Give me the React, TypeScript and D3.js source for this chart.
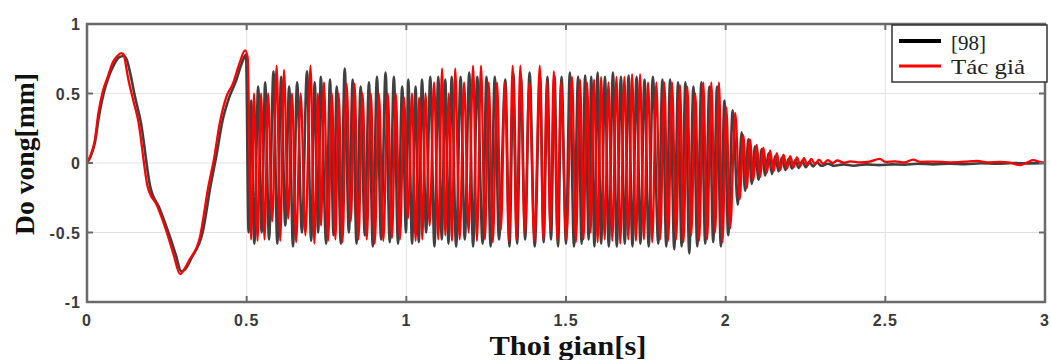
import React from "react";
import * as d3 from "d3";

// ---------- data ----------
const xTicks = [0, 0.5, 1, 1.5, 2, 2.5, 3];
const xTickLabels = ["0", "0.5", "1", "1.5", "2", "2.5", "3"];
const yTicks = [-1, -0.5, 0, 0.5, 1];
const yTickLabels = ["-1", "-0.5", "0", "0.5", "1"];
const seriesNames = ["[98]", "Tác giả"];

// Series "Tác giả" (red): [time s, deflection mm]
const redPoints: [number, number][] = [
  [0, 0], [0.012, 0.06], [0.025, 0.17], [0.035, 0.35], [0.05, 0.52], [0.065, 0.62], [0.08, 0.72], [0.095, 0.77], [0.108, 0.79], [0.115, 0.78],
  [0.122, 0.7], [0.128, 0.62], [0.145, 0.45], [0.16, 0.31], [0.19, -0.17], [0.22, -0.31], [0.25, -0.5], [0.27, -0.65], [0.292, -0.8], [0.3, -0.78],
  [0.32, -0.7], [0.354, -0.53], [0.38, -0.17], [0.397, 0.02], [0.416, 0.29], [0.437, 0.48], [0.457, 0.57], [0.478, 0.72], [0.495, 0.81], [0.503, 0.76],
  [0.514, -0.55], [0.523, 0.5], [0.534, -0.56], [0.545, 0.5], [0.556, -0.55], [0.567, 0.5], [0.58, -0.42], [0.594, 0.7], [0.605, -0.56], [0.617, 0.67],
  [0.63, -0.4], [0.642, 0.5], [0.655, -0.57], [0.669, 0.5], [0.684, -0.52], [0.7, 0.7], [0.712, -0.58], [0.723, 0.5], [0.733, -0.45], [0.742, 0.58],
  [0.755, -0.56], [0.767, 0.5], [0.778, -0.55], [0.788, 0.5], [0.8, -0.57], [0.813, 0.57], [0.826, -0.42], [0.838, 0.57], [0.85, -0.55], [0.863, 0.5],
  [0.876, -0.55], [0.889, 0.5], [0.901, -0.58], [0.914, 0.5], [0.928, -0.56], [0.942, 0.5], [0.955, -0.54], [0.967, 0.5], [0.98, -0.55], [0.993, 0.47],
  [1.005, -0.4], [1.018, 0.5], [1.029, -0.56], [1.04, 0.47], [1.05, -0.55], [1.06, 0.5], [1.073, -0.45], [1.087, 0.58], [1.1, -0.55], [1.112, 0.68],
  [1.122, -0.52], [1.133, 0.5], [1.143, -0.56], [1.153, 0.68], [1.167, -0.55], [1.181, 0.58], [1.195, -0.5], [1.209, 0.7], [1.221, -0.56], [1.234, 0.7],
  [1.246, -0.55], [1.258, 0.58], [1.271, -0.57], [1.284, 0.58], [1.296, -0.48], [1.309, 0.58], [1.321, -0.56], [1.333, 0.7], [1.345, -0.55], [1.357, 0.7],
  [1.371, -0.5], [1.385, 0.58], [1.401, -0.56], [1.418, 0.7], [1.429, -0.55], [1.44, 0.58], [1.451, -0.48], [1.462, 0.66], [1.473, -0.56], [1.484, 0.58],
  [1.501, -0.55], [1.519, 0.62], [1.531, -0.57], [1.544, 0.6], [1.555, -0.55], [1.566, 0.58], [1.577, -0.5], [1.588, 0.6], [1.599, -0.57], [1.61, 0.62],
  [1.621, -0.55], [1.633, 0.58], [1.645, -0.56], [1.658, 0.62], [1.67, -0.58], [1.683, 0.62], [1.695, -0.55], [1.707, 0.64], [1.719, -0.56], [1.732, 0.64],
  [1.744, -0.55], [1.757, 0.58], [1.77, -0.57], [1.783, 0.58], [1.795, -0.55], [1.808, 0.58], [1.82, -0.56], [1.832, 0.58], [1.845, -0.55], [1.857, 0.56],
  [1.868, -0.57], [1.88, 0.55], [1.892, -0.52], [1.905, 0.5], [1.917, -0.56], [1.93, 0.58], [1.942, -0.55], [1.955, 0.58], [1.967, -0.5], [1.979, 0.58],
  [1.99, -0.57], [2.002, 0.4], [2.014, -0.47], [2.03, 0.36], [2.044, -0.26], [2.055, 0.2], [2.066, -0.18], [2.076, 0.17], [2.087, -0.12], [2.097, 0.13],
  [2.108, -0.1], [2.118, 0.11], [2.129, -0.07], [2.139, 0.09], [2.15, -0.06], [2.16, 0.07], [2.171, -0.05], [2.181, 0.06], [2.192, -0.04], [2.202, 0.05],
  [2.213, -0.03], [2.223, 0.04], [2.234, -0.02], [2.245, 0.035], [2.256, -0.015], [2.268, 0.03], [2.28, -0.01], [2.292, 0.025], [2.305, -0.005], [2.32, 0.02],
  [2.335, 0.0], [2.35, 0.018], [2.37, 0.002], [2.39, 0.012], [2.42, 0.004], [2.45, 0.01], [2.483, 0.03], [2.5, 0.008], [2.53, 0.012], [2.56, 0.004],
  [2.587, 0.025], [2.61, 0.008], [2.65, 0.01], [2.7, 0.005], [2.75, 0.01], [2.787, 0.015], [2.82, 0.005], [2.86, 0.008], [2.89, 0.002], [2.922, -0.015],
  [2.945, 0.005], [2.963, 0.02], [2.98, 0.01], [3.0, 0.0],
];

// Series "[98]" (black): [time s, deflection mm]
const blackPoints: [number, number][] = [
  [0, 0], [0.012, 0.05], [0.025, 0.15], [0.037, 0.33], [0.052, 0.5], [0.068, 0.62], [0.083, 0.7], [0.1, 0.76], [0.115, 0.77], [0.125, 0.74],
  [0.135, 0.65], [0.15, 0.48], [0.168, 0.3], [0.198, -0.17], [0.228, -0.33], [0.258, -0.52], [0.278, -0.66], [0.295, -0.78], [0.305, -0.77], [0.328, -0.68],
  [0.362, -0.5], [0.388, -0.15], [0.405, 0.05], [0.424, 0.3], [0.445, 0.47], [0.465, 0.58], [0.485, 0.72], [0.498, 0.78],
  [0.506, -0.5], [0.514, 0.45], [0.524, -0.58], [0.536, 0.55], [0.547, -0.5], [0.558, 0.58], [0.57, -0.55], [0.584, 0.66], [0.596, -0.58], [0.608, 0.62],
  [0.621, -0.45], [0.633, 0.55], [0.645, -0.6], [0.658, 0.58], [0.673, -0.5], [0.689, 0.66], [0.702, -0.56], [0.713, 0.58], [0.724, -0.5], [0.732, 0.62],
  [0.749, -0.58], [0.761, 0.6], [0.772, -0.52], [0.782, 0.55], [0.795, -0.58], [0.807, 0.68], [0.82, -0.5], [0.832, 0.6], [0.844, -0.58], [0.857, 0.55],
  [0.87, -0.52], [0.883, 0.58], [0.895, -0.6], [0.908, 0.62], [0.921, -0.55], [0.935, 0.65], [0.948, -0.57], [0.961, 0.62], [0.974, -0.58], [0.987, 0.55],
  [0.999, -0.5], [1.006, 0.6], [1.018, -0.58], [1.029, 0.55], [1.039, -0.57], [1.049, 0.6], [1.062, -0.5], [1.075, 0.62], [1.088, -0.6], [1.1, 0.62],
  [1.111, -0.55], [1.122, 0.6], [1.132, -0.58], [1.142, 0.62], [1.156, -0.6], [1.17, 0.62], [1.183, -0.55], [1.197, 0.65], [1.209, -0.6], [1.222, 0.62],
  [1.239, -0.58], [1.251, 0.62], [1.264, -0.6], [1.277, 0.62], [1.29, -0.55], [1.31, 0.6], [1.323, -0.6], [1.335, 0.65], [1.347, -0.58], [1.359, 0.62],
  [1.372, -0.55], [1.386, 0.65], [1.402, -0.6], [1.419, 0.62], [1.43, -0.57], [1.442, 0.62], [1.453, -0.55], [1.464, 0.63], [1.475, -0.6], [1.486, 0.62],
  [1.5, -0.58], [1.512, 0.65], [1.525, -0.6], [1.538, 0.62], [1.549, -0.58], [1.56, 0.63], [1.571, -0.55], [1.579, 0.62], [1.589, -0.6], [1.599, 0.65],
  [1.61, -0.58], [1.622, 0.62], [1.634, -0.6], [1.647, 0.65], [1.659, -0.6], [1.672, 0.62], [1.684, -0.58], [1.696, 0.63], [1.708, -0.6], [1.721, 0.62],
  [1.733, -0.58], [1.746, 0.6], [1.759, -0.6], [1.772, 0.62], [1.789, -0.58], [1.802, 0.6], [1.814, -0.6], [1.826, 0.6], [1.839, -0.62], [1.851, 0.58],
  [1.862, -0.6], [1.874, 0.58], [1.886, -0.65], [1.899, 0.55], [1.911, -0.6], [1.924, 0.58], [1.936, -0.58], [1.949, 0.55], [1.961, -0.57], [1.973, 0.55],
  [1.985, -0.6], [1.996, 0.45], [2.008, -0.52], [2.022, 0.38], [2.038, -0.3], [2.05, 0.22], [2.061, -0.2], [2.071, 0.17], [2.082, -0.15], [2.092, 0.12],
  [2.103, -0.12], [2.113, 0.1], [2.124, -0.09], [2.134, 0.07], [2.145, -0.08], [2.155, 0.05], [2.166, -0.06], [2.176, 0.04], [2.187, -0.05], [2.197, 0.03],
  [2.208, -0.04], [2.218, 0.02], [2.229, -0.035], [2.24, 0.015], [2.251, -0.03], [2.262, 0.01], [2.274, -0.025], [2.286, 0.005], [2.3, -0.02], [2.32, -0.005],
  [2.34, -0.02], [2.37, -0.01], [2.4, -0.02], [2.44, -0.01], [2.48, -0.015], [2.52, -0.01], [2.56, -0.012], [2.6, -0.005], [2.65, -0.01], [2.7, -0.005],
  [2.75, -0.008], [2.8, -0.002], [2.85, -0.005], [2.9, 0.0], [2.95, -0.003], [3.0, 0.0],
];

// ---------- layout ----------
const W = 1051;
const H = 360;
const M = { left: 87, right: 1045, top: 24, bottom: 302 };

export default function App() {
  const x = d3.scaleLinear().domain([0, 3]).range([M.left, M.right]);
  const y = d3.scaleLinear().domain([-1, 1]).range([M.bottom, M.top]);
  const line = d3
    .line<[number, number]>()
    .x((d) => x(d[0]))
    .y((d) => y(d[1]))
    .curve(d3.curveMonotoneX);

  const tickLen = 6;
  const axisColor = "#6a6a6a";
  const tickFont = "'Liberation Sans', Arial, sans-serif";
  const serif = "'Liberation Serif', 'Times New Roman', serif";

  return (
    <svg
      width={W}
      height={H}
      style={{ position: "absolute", left: 0, top: 0, background: "#fff" }}
    >
      <defs>
        <clipPath id="plotclip">
          <rect x={M.left} y={M.top} width={M.right - M.left} height={M.bottom - M.top} />
        </clipPath>
      </defs>
      <rect x={0} y={0} width={W} height={H} fill="#fff" />

      {/* grid */}
      <g stroke="#e2e2e2" strokeWidth={1}>
        {xTicks.slice(1, -1).map((t) => (
          <line key={"gx" + t} x1={x(t)} x2={x(t)} y1={M.top} y2={M.bottom} />
        ))}
        {yTicks.slice(1, -1).map((t) => (
          <line key={"gy" + t} x1={M.left} x2={M.right} y1={y(t)} y2={y(t)} />
        ))}
      </g>

      {/* series */}
      <g clipPath="url(#plotclip)" fill="none" strokeLinejoin="round">
        <path d={line(blackPoints) || ""} stroke="#1e1e1e" strokeWidth={2.6} strokeOpacity={0.85} />
        <path d={line(redPoints) || ""} stroke="#ff0000" strokeWidth={2.3} />
      </g>

      {/* frame */}
      <rect
        x={M.left}
        y={M.top}
        width={M.right - M.left}
        height={M.bottom - M.top}
        fill="none"
        stroke={axisColor}
        strokeWidth={2.5}
      />

      {/* ticks */}
      <g stroke={axisColor} strokeWidth={2}>
        {xTicks.map((t) => (
          <g key={"tx" + t}>
            <line x1={x(t)} x2={x(t)} y1={M.bottom} y2={M.bottom - tickLen} />
            <line x1={x(t)} x2={x(t)} y1={M.top} y2={M.top + tickLen} />
          </g>
        ))}
        {yTicks.map((t) => (
          <g key={"ty" + t}>
            <line x1={M.left} x2={M.left + tickLen} y1={y(t)} y2={y(t)} />
            <line x1={M.right} x2={M.right - tickLen} y1={y(t)} y2={y(t)} />
          </g>
        ))}
      </g>

      {/* tick labels */}
      <g fontFamily={tickFont} fontWeight="bold" fontSize={16} fill="#3a3a3a" letterSpacing={1}>
        {xTicks.map((t, i) => (
          <text key={"lx" + t} x={x(t)} y={326} textAnchor="middle">
            {xTickLabels[i]}
          </text>
        ))}
        {yTicks.map((t, i) => (
          <text key={"ly" + t} x={M.left - 6} y={y(t) + 6} textAnchor="end">
            {yTickLabels[i]}
          </text>
        ))}
      </g>

      {/* axis labels */}
      <text
        x={(M.left + M.right) / 2 + 2}
        y={355}
        textAnchor="middle"
        fontFamily={serif}
        fontWeight="bold"
        fontSize={27}
        fill="#111"
        textLength={157}
        lengthAdjust="spacingAndGlyphs"
      >
        Thoi gian[s]
      </text>
      <text
        transform={`translate(34, ${154}) rotate(-90)`}
        textAnchor="middle"
        fontFamily={serif}
        fontWeight="bold"
        fontSize={27}
        fill="#111"
        textLength={162}
        lengthAdjust="spacingAndGlyphs"
      >
        Do vong[mm]
      </text>

      {/* legend */}
      <g>
        <rect x={892} y={25} width={155} height={57} fill="#fff" stroke="#333" strokeWidth={1.5} />
        <line x1={899} x2={941} y1={41} y2={41} stroke="#000" strokeWidth={4} />
        <line x1={899} x2={941} y1={66} y2={66} stroke="#ff0000" strokeWidth={3} />
        <text x={951} y={50} fontFamily={serif} fontSize={21} fill="#222">
          {seriesNames[0]}
        </text>
        <text x={951} y={74} fontFamily={serif} fontSize={21} fill="#222" textLength={74} lengthAdjust="spacingAndGlyphs">
          {seriesNames[1]}
        </text>
      </g>
    </svg>
  );
}
